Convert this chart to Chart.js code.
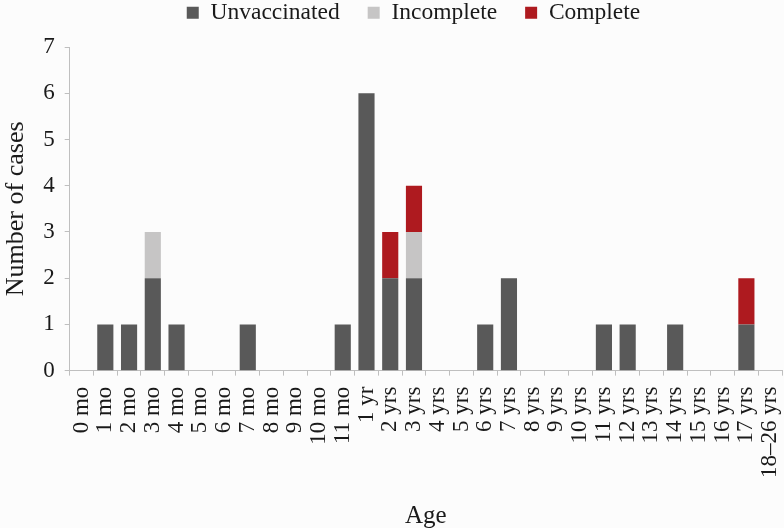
<!DOCTYPE html>
<html>
<head>
<meta charset="utf-8">
<script src="https://cdn.jsdelivr.net/npm/chart.js@4"></script>
<style>
html, body { margin: 0; padding: 0; background: #fcfcfc; }
#wrap { width: 784px; height: 528px; }
</style>
</head>
<body>
<div id="wrap"><canvas id="casesChart" width="784" height="528"></canvas></div>
<script>
// age groups along the x axis
const ageLabels = ['0 mo', '1 mo', '2 mo', '3 mo', '4 mo', '5 mo', '6 mo', '7 mo', '8 mo', '9 mo', '10 mo', '11 mo',
  '1 yr', '2 yrs', '3 yrs', '4 yrs', '5 yrs', '6 yrs', '7 yrs', '8 yrs', '9 yrs', '10 yrs', '11 yrs', '12 yrs',
  '13 yrs', '14 yrs', '15 yrs', '16 yrs', '17 yrs', '18\u201326 yrs'];
// cases per vaccination status
const unvaccinated = [0, 1, 1, 2, 1, 0, 0, 1, 0, 0, 0, 1, 6, 2, 2, 0, 0, 1, 2, 0, 0, 0, 1, 1, 0, 1, 0, 0, 1, 0];
const incomplete   = [0, 0, 0, 1, 0, 0, 0, 0, 0, 0, 0, 0, 0, 0, 1, 0, 0, 0, 0, 0, 0, 0, 0, 0, 0, 0, 0, 0, 0, 0];
const complete     = [0, 0, 0, 0, 0, 0, 0, 0, 0, 0, 0, 0, 0, 1, 1, 0, 0, 0, 0, 0, 0, 0, 0, 0, 0, 0, 0, 0, 1, 0];
const yTicks = [0, 1, 2, 3, 4, 5, 6, 7];

const serif = 'Liberation Serif';
const axisGray = '#bfbfbf';
const ink = '#1a1a1a';

const barDefaults = {
  barPercentage: 0.68,
  categoryPercentage: 1.0,
  borderWidth: 0
};

const data = {
  labels: ageLabels,
  datasets: [
    Object.assign({ label: 'Unvaccinated', data: unvaccinated, backgroundColor: '#595959' }, barDefaults),
    Object.assign({ label: 'Incomplete', data: incomplete, backgroundColor: '#c6c5c5' }, barDefaults),
    Object.assign({ label: 'Complete', data: complete, backgroundColor: '#ae1a1f' }, barDefaults)
  ]
};

// legend needs wide gaps between items but sits tight at the top, a bit right of centre
const legendTweak = {
  id: 'legendTweak',
  beforeInit(chart) {
    const lg = chart.legend;
    if (!lg) return;
    const fit = lg.fit;
    lg.fit = function () {
      fit.call(this);
      this.height = 47;
    };
    const innerDraw = lg._draw;
    lg._draw = function () {
      const ctx = this.ctx;
      ctx.save();
      ctx.translate(22, -27);
      innerDraw.apply(this, arguments);
      ctx.restore();
    };
  }
};

const chart = new Chart(document.getElementById('casesChart').getContext('2d'), {
  type: 'bar',
  data,
  plugins: [legendTweak],
  options: {
    responsive: false,
    animation: false,
    layout: { padding: { left: 1, right: 2, top: 0, bottom: 0 } },
    plugins: {
      tooltip: { enabled: false },
      legend: {
        position: 'top',
        labels: {
          boxWidth: 12,
          boxHeight: 12,
          padding: 28,
          color: ink,
          font: { family: serif, size: 23.5 }
        }
      }
    },
    scales: {
      x: {
        stacked: true,
        offset: true,
        // the rotated last label fits without extra room on the right
        afterFit: s => { s.paddingRight = 0; },
        border: { color: axisGray, width: 1 },
        grid: { display: true, offset: true, drawOnChartArea: false, drawTicks: true, tickLength: 5, color: axisGray },
        ticks: {
          autoSkip: false,
          maxRotation: 90,
          minRotation: 90,
          padding: 11,
          color: ink,
          font: { family: serif, size: 23 }
        },
        title: { display: true, text: 'Age', color: ink, font: { family: serif, size: 25 }, padding: { top: 12, bottom: -3 } }
      },
      y: {
        stacked: true,
        min: 0,
        max: 7,
        afterBuildTicks: axis => { axis.ticks = yTicks.map(v => ({ value: v })); },
        border: { color: axisGray, width: 1 },
        grid: { display: true, drawOnChartArea: false, drawTicks: true, tickLength: 5, color: axisGray },
        ticks: { color: ink, padding: 10, font: { family: serif, size: 23 } },
        title: { display: true, text: 'Number of cases', color: ink, font: { family: serif, size: 26 }, padding: { top: 0, bottom: 1 } }
      }
    }
  }
});
</script>
</body>
</html>
